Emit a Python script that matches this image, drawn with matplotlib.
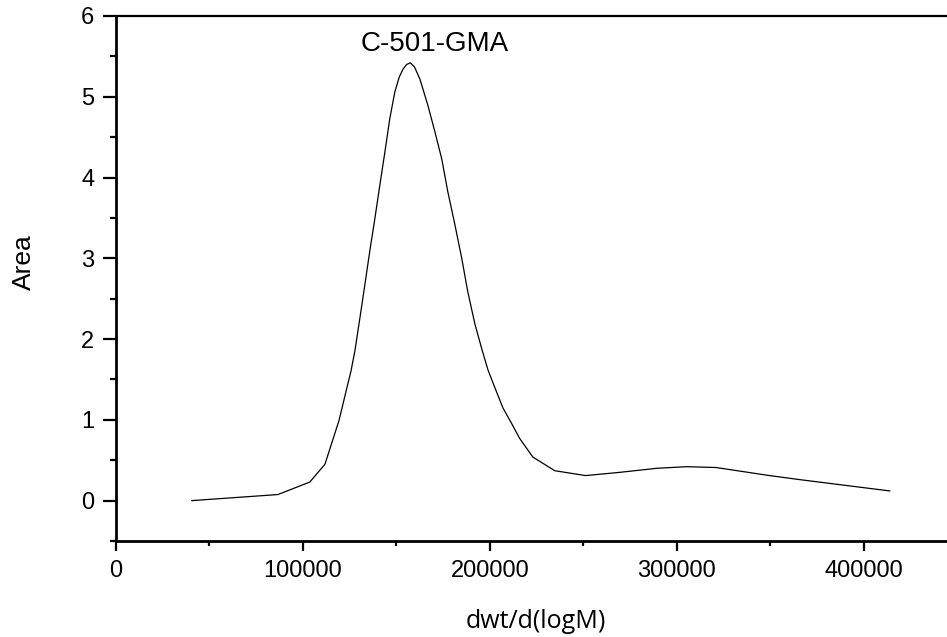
import matplotlib
matplotlib.use("Agg")
import matplotlib.pyplot as plt
from matplotlib.ticker import MultipleLocator

# data
mw = [40600, 86600, 103700, 111800, 119300, 124000, 125700, 127800, 130500, 133200,
      135800, 138500, 141200, 143900, 146500, 149200, 151500, 153500, 155500, 157500,
      159700, 162600, 166800, 170600, 174300, 177500, 181300, 185000, 188200, 192000,
      195700, 199000, 202700, 207000, 211800, 216000, 223000, 234800, 251300, 269500,
      289300, 305300, 321000, 349700, 365800, 414000]
area = [0.0, 0.075, 0.23, 0.45, 0.99, 1.44, 1.60, 1.85, 2.26, 2.68,
        3.09, 3.49, 3.91, 4.32, 4.73, 5.06, 5.24, 5.34, 5.40, 5.42,
        5.37, 5.22, 4.90, 4.57, 4.23, 3.83, 3.42, 3.00, 2.59, 2.19,
        1.88, 1.62, 1.40, 1.15, 0.95, 0.77, 0.54, 0.37, 0.31, 0.35,
        0.40, 0.42, 0.41, 0.31, 0.26, 0.12]
x_ticks = [0, 100000, 200000, 300000, 400000]
y_ticks = [0, 1, 2, 3, 4, 5, 6]
annotation = "C-501-GMA"
x_label = "dwt/d(logM)"
y_label = "Area"

W, H = 947, 637
fig = plt.figure(figsize=(W / 100, H / 100), dpi=100)
left, right, top, bottom = 116, 957, 16, 541
ax = fig.add_axes([left / W, 1 - bottom / H, (right - left) / W, (bottom - top) / H])

ax.plot(mw, area, color="black", lw=0.9)
ax.set_xlim(0, 450000)
ax.set_ylim(-0.5, 6)

ax.set_xticks(x_ticks)
ax.set_xticklabels([str(v) for v in x_ticks])
ax.set_yticks(y_ticks)
ax.set_yticklabels([str(v) for v in y_ticks])
ax.xaxis.set_minor_locator(MultipleLocator(50000))
ax.yaxis.set_minor_locator(MultipleLocator(0.5))

for lab in ax.get_xticklabels() + ax.get_yticklabels():
    lab.set_fontfamily(["Liberation Sans", "DejaVu Sans"])
    lab.set_fontsize(17)

ax.tick_params(axis="y", which="major", direction="out", length=9.5, width=1.6, pad=6)
ax.tick_params(axis="y", which="minor", direction="out", length=4.5, width=1.6)
ax.tick_params(axis="x", which="major", direction="out", length=7.5, width=1.6, pad=6)
ax.tick_params(axis="x", which="minor", direction="out", length=3.5, width=1.6)

ax.spines["left"].set_linewidth(2.0)
ax.spines["bottom"].set_linewidth(2.0)
ax.spines["top"].set_linewidth(1.6)
ax.spines["right"].set_visible(False)

ax.text(170600, 5.65, annotation, ha="center", va="center",
        fontsize=20, family=["Liberation Sans", "DejaVu Sans"])

fig.text(536 / W, 1 - 622 / H, x_label, ha="center", va="center",
         fontsize=18, family=["Open Sans", "DejaVu Sans"])
fig.text(24 / W, 1 - 262 / H, y_label, ha="center", va="center", rotation=90,
         fontsize=19, family=["Liberation Sans Narrow", "Liberation Sans", "DejaVu Sans"])

fig.savefig("out.png", dpi=100)
